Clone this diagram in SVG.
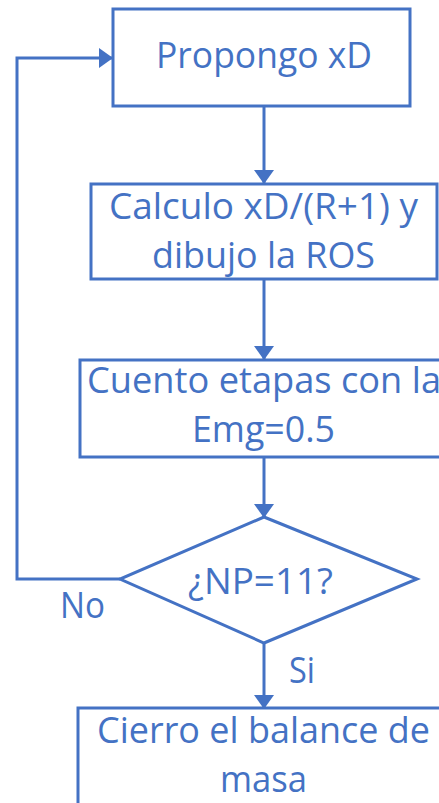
<svg xmlns="http://www.w3.org/2000/svg" width="439" height="803" viewBox="0 0 439 803">
<style>
.box{fill:#ffffff;stroke:#4472C4;stroke-width:3}
.con{fill:none;stroke:#4472C4;stroke-width:3}
.t{font-family:"Open Sans","Noto Sans","Liberation Sans",sans-serif;font-size:37px;fill:#4472C4}
</style>
<defs>
<marker id="ah" markerUnits="userSpaceOnUse" markerWidth="14" markerHeight="20" refX="13" refY="10" orient="auto">
<path d="M0,0 L14,10 L0,20 Z" fill="#4472C4"/>
</marker>
</defs>
<rect width="439" height="803" fill="#ffffff"/>
<g id="connectors">
<path class="con" d="M264,106 L264,183" marker-end="url(#ah)"/>
<path class="con" d="M264,279 L264,359" marker-end="url(#ah)"/>
<path class="con" d="M264,457 L264,517" marker-end="url(#ah)"/>
<path class="con" d="M264,643 L264,708" marker-end="url(#ah)"/>
<path class="con" d="M120,579 L17,579 L17,58 L112,58" marker-end="url(#ah)"/>
<text class="t" x="60" y="618" textLength="45" lengthAdjust="spacingAndGlyphs">No</text>
<text class="t" x="289" y="683" textLength="26" lengthAdjust="spacingAndGlyphs">Si</text>
</g>
<g id="n1">
<rect class="box" x="113" y="9" width="297" height="97"/>
<text class="t" x="156" y="68" textLength="216" lengthAdjust="spacingAndGlyphs">Propongo xD</text>
</g>
<g id="n2">
<rect class="box" x="91" y="184" width="346" height="95"/>
<text class="t" x="109" y="219" textLength="309" lengthAdjust="spacingAndGlyphs">Calculo xD/(R+1) y</text>
<text class="t" x="152" y="268" textLength="223" lengthAdjust="spacingAndGlyphs">dibujo la ROS</text>
</g>
<g id="n3">
<rect class="box" x="80" y="360" width="368" height="97"/>
<text class="t" x="87" y="393" textLength="354" lengthAdjust="spacingAndGlyphs">Cuento etapas con la</text>
<text class="t" x="192" y="442" textLength="143" lengthAdjust="spacingAndGlyphs">Emg=0.5</text>
</g>
<g id="n4">
<path class="box" d="M264,517 L417,579 L264,643 L120,579 Z"/>
<text class="t" x="188" y="594" textLength="145" lengthAdjust="spacingAndGlyphs">¿NP=11?</text>
</g>
<g id="n5">
<rect class="box" x="78" y="708" width="372" height="110"/>
<text class="t" x="97" y="743" textLength="333" lengthAdjust="spacingAndGlyphs">Cierro el balance de</text>
<text class="t" x="220" y="792" textLength="87" lengthAdjust="spacingAndGlyphs">masa</text>
</g>
</svg>
